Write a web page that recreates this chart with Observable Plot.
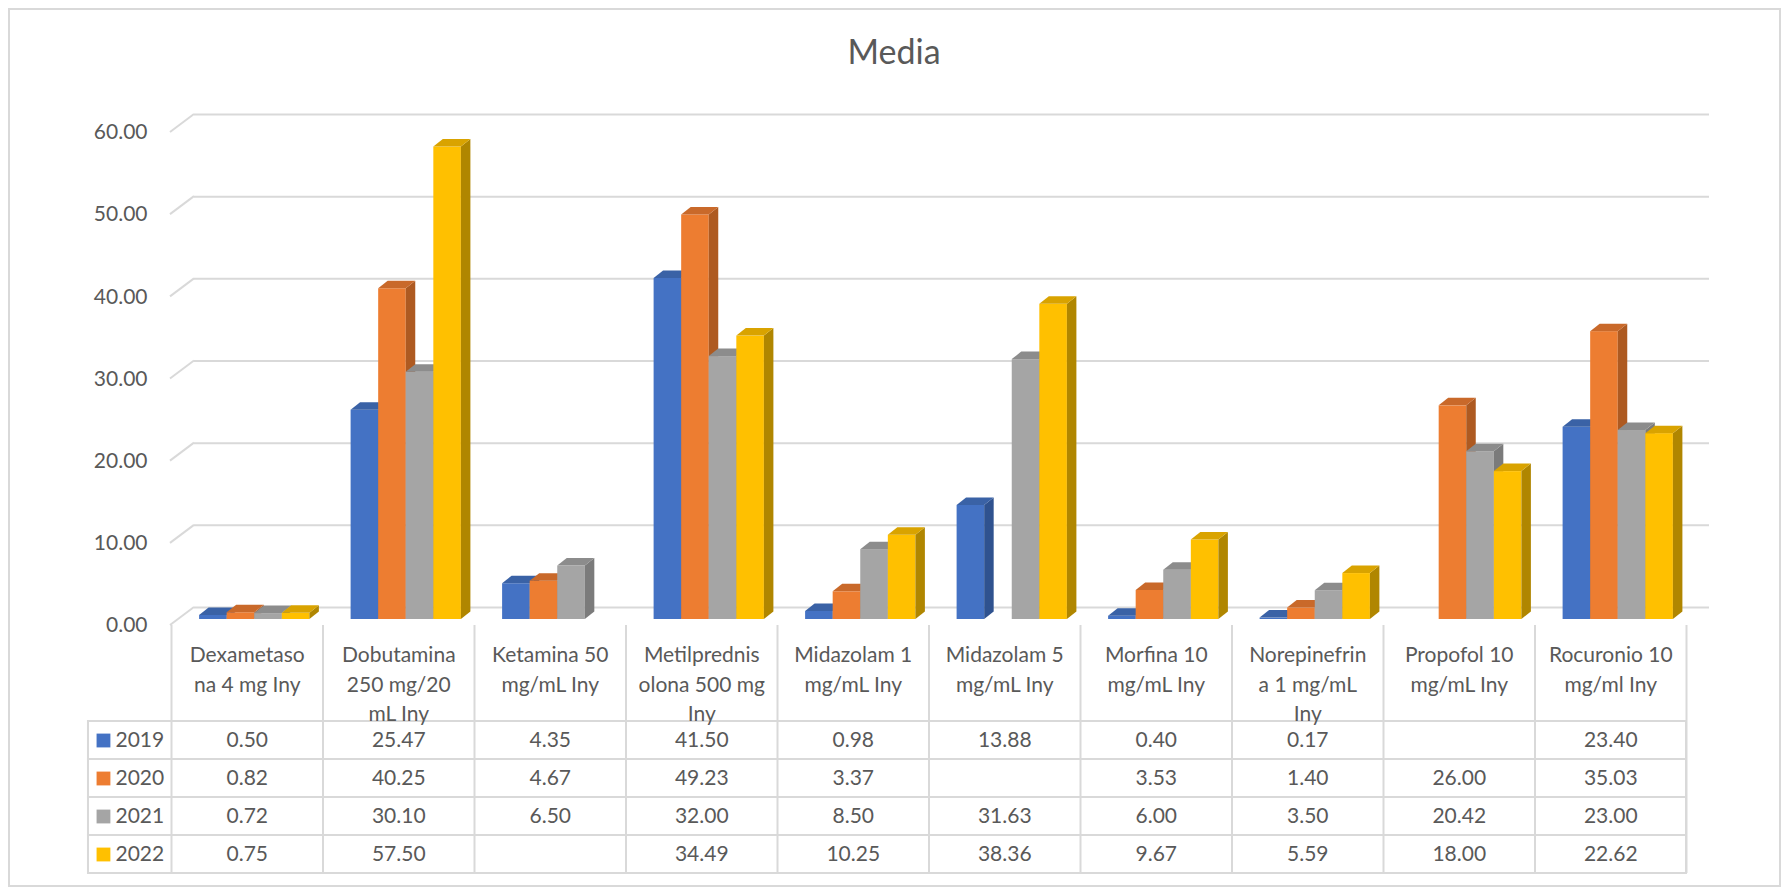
<!DOCTYPE html>
<html>
<head>
<meta charset="utf-8">
<script src="https://cdn.jsdelivr.net/npm/d3@7"></script>
<script src="https://cdn.jsdelivr.net/npm/@observablehq/plot@0.6"></script>
<style>
  html, body { margin: 0; padding: 0; background: #fff; }
  #frame { position: absolute; left: 8px; top: 8px; width: 1773px; height: 879px; border: 2px solid #d9d9d9; box-sizing: border-box; }
  #title { position: absolute; left: 0; top: 31px; width: 1788px; text-align: center; font: 34px Lato, sans-serif; line-height: 40px; color: #595959; }
  #chart { position: absolute; left: 0; top: 80px; }
  #table { position: absolute; left: 0; top: 625px; }
</style>
</head>
<body>
<div id="frame"></div>
<div id="title">Media</div>
<div id="chart"></div>
<div id="table"></div>
<script>
// ---- data ----
const categories = [
  "Dexametasona 4 mg Iny", "Dobutamina 250 mg/20 mL Iny", "Ketamina 50 mg/mL Iny",
  "Metilprednisolona 500 mg Iny", "Midazolam 1 mg/mL Iny", "Midazolam 5 mg/mL Iny",
  "Morfina 10 mg/mL Iny", "Norepinefrina 1 mg/mL Iny", "Propofol 10 mg/mL Iny",
  "Rocuronio 10 mg/ml Iny"
];
const categoryLines = [
  ["Dexametaso", "na 4 mg Iny"],
  ["Dobutamina", "250 mg/20", "mL Iny"],
  ["Ketamina 50", "mg/mL Iny"],
  ["Metilprednis", "olona 500 mg", "Iny"],
  ["Midazolam 1", "mg/mL Iny"],
  ["Midazolam 5", "mg/mL Iny"],
  ["Morfina 10", "mg/mL Iny"],
  ["Norepinefrin", "a 1 mg/mL", "Iny"],
  ["Propofol 10", "mg/mL Iny"],
  ["Rocuronio 10", "mg/ml Iny"]
];
const years = ["2019", "2020", "2021", "2022"];
const values2019 = [0.50, 25.47, 4.35, 41.50, 0.98, 13.88, 0.40, 0.17, null, 23.40];
const values2020 = [0.82, 40.25, 4.67, 49.23, 3.37, null, 3.53, 1.40, 26.00, 35.03];
const values2021 = [0.72, 30.10, 6.50, 32.00, 8.50, 31.63, 6.00, 3.50, 20.42, 23.00];
const values2022 = [0.75, 57.50, null, 34.49, 10.25, 38.36, 9.67, 5.59, 18.00, 22.62];
const yTicks = [0, 10, 20, 30, 40, 50, 60];

const seriesColors = ["#4472C4", "#ED7D31", "#A5A5A5", "#FFC000"];
const topColors   = ["#3A62A6", "#C9692A", "#8C8C8C", "#D9A300"];
const sideColors  = ["#2F528F", "#AE5A21", "#7B7B7B", "#B08600"];

const series = [values2019, values2020, values2021, values2022];
const bars = [];
categories.forEach((c, i) => {
  series.forEach((vals, j) => {
    if (vals[i] != null) bars.push({i, j, year: years[j], value: vals[i]});
  });
});
const cells = [];
series.forEach((vals, j) => vals.forEach((v, i) => { if (v != null) cells.push({i, year: years[j], value: v}); }));

// ---- layout / style constants ----
const W = 1782;
const FONT = "Lato, sans-serif";
const TEXT = "#595959";
const GRID = "#d9d9d9";
const barW = 0.182;           // bar width in category units
const floorDX = 23, floorDY = 18;   // floor depth (px)
const midDX = 7.5, midDY = 6;       // bar front-face shift (px)
const sideDX = 9.5, sideDY = 7.5;   // bar depth (px)
const legendColW = 0.548;           // legend column width in category units

// ---- chart ----
const chart = Plot.plot({
  width: W,
  height: 545,
  marginLeft: 171,
  marginRight: 96,
  marginTop: 52,
  marginBottom: 0,
  style: {fontFamily: FONT, fontSize: "21px", color: TEXT, background: "transparent", overflow: "visible"},
  x: {type: "linear", domain: [0, 10], axis: null},
  y: {domain: [0, 60], axis: null},
  marks: [
    // back-wall gridlines
    Plot.ruleY(yTicks, {y: d => d, x1: 0, x2: 10, dx: floorDX, dy: -floorDY, stroke: GRID, strokeWidth: 2}),
    // left side-wall slants
    Plot.ruleY(yTicks, {
      y: d => d,
      render: (index, scales, values) => {
        const g = d3.create("svg:g").attr("stroke", GRID).attr("stroke-width", 2);
        const x0 = scales.x(0);
        for (const k of index) {
          const y = values.y[k];
          g.append("line").attr("x1", x0 - 1).attr("y1", y).attr("x2", x0 + floorDX).attr("y2", y - floorDY);
        }
        return g.node();
      }
    }),
    // y axis labels
    Plot.axisY(yTicks, {tickSize: 0, tickPadding: 24, tickFormat: d3.format(".2f"), fill: TEXT, fontSize: 21}),
    // 3D bars
    Plot.rect(bars, {
      x1: d => d.i + 0.5 + (d.j - 2) * barW,
      x2: d => d.i + 0.5 + (d.j - 1) * barW,
      y1: 0,
      y2: d => d.value,
      render: (index, scales, values) => {
        const g = d3.create("svg:g");
        for (const k of index) {
          const d = bars[k];
          const xa = values.x1[k] + midDX, xb = values.x2[k] + midDX;
          const yt = values.y2[k] - midDY, yb = values.y1[k] - midDY;
          g.append("rect").attr("x", xa).attr("y", yt).attr("width", xb - xa).attr("height", yb - yt)
            .attr("fill", seriesColors[d.j]);
          g.append("polygon")
            .attr("points", [[xb, yt], [xb + sideDX, yt - sideDY], [xb + sideDX, yb - sideDY], [xb, yb]].join(" "))
            .attr("fill", sideColors[d.j]);
          g.append("polygon")
            .attr("points", [[xa, yt], [xb, yt], [xb + sideDX, yt - sideDY], [xa + sideDX, yt - sideDY]].join(" "))
            .attr("fill", topColors[d.j]);
        }
        return g.node();
      }
    })
  ]
});
document.getElementById("chart").appendChild(chart);

// ---- data table ----
const table = Plot.plot({
  width: W,
  height: 262,
  marginLeft: 171,
  marginRight: 96,
  marginTop: 95,
  marginBottom: 14,
  style: {fontFamily: FONT, fontSize: "21px", color: TEXT, background: "transparent", overflow: "visible"},
  x: {type: "linear", domain: [0, 10], axis: null},
  y: {type: "band", domain: years, padding: 0, axis: null},
  marks: [
    Plot.barX(years, {x1: -legendColW, x2: 10, y: d => d, fill: "none", stroke: GRID, strokeWidth: 2, inset: 0}),
    Plot.ruleX(d3.range(11), {x: d => d, insetTop: -95, stroke: GRID, strokeWidth: 2}),
    Plot.text(categories, {
      x: (d, i) => i + 0.5,
      frameAnchor: "top",
      dy: -79,
      lineAnchor: "top",
      lineHeight: 29.5 / 21,
      text: (d, i) => categoryLines[i].join("\n"),
      fill: TEXT
    }),
    Plot.dot(years, {x: -legendColW, y: d => d, dx: 15, symbol: "square", r: 7.8, fill: (d, i) => seriesColors[i]}),
    Plot.text(years, {x: -legendColW, y: d => d, dx: 27, text: d => d, textAnchor: "start", fill: TEXT}),
    Plot.text(cells, {x: d => d.i + 0.5, y: d => d.year, text: d => d.value.toFixed(2), fill: TEXT})
  ]
});
document.getElementById("table").appendChild(table);
</script>
</body>
</html>
